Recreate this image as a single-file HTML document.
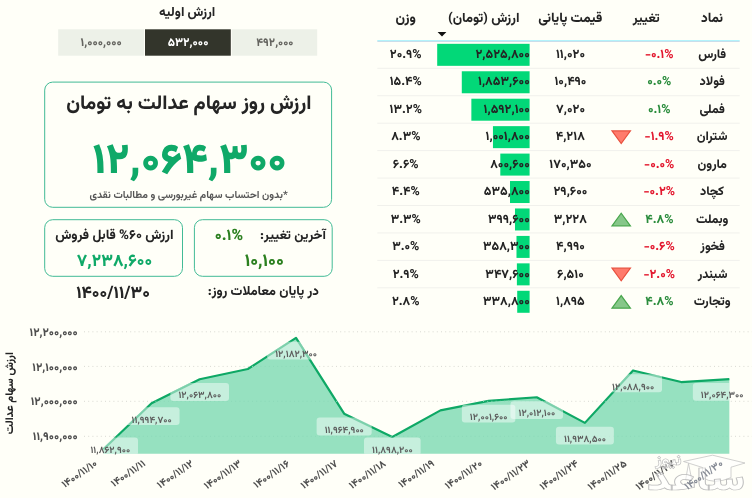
<!DOCTYPE html>
<html lang="fa">
<head>
<meta charset="utf-8">
<title>ارزش روز سهام عدالت</title>
<style>
html,body{margin:0;padding:0;background:#fffff8;}
body{width:752px;height:498px;overflow:hidden;font-family:Vazirmatn, 'DejaVu Sans', 'Liberation Sans', sans-serif;}
svg{display:block;position:absolute;left:0;top:0;}
</style>
</head>
<body>
<svg width="752" height="498" viewBox="0 0 752 498" font-family="Vazirmatn, 'DejaVu Sans', 'Liberation Sans', sans-serif" text-anchor="middle" text-rendering="geometricPrecision">
<defs><mask id="plot" maskUnits="userSpaceOnUse" x="0" y="320" width="752" height="133.7"><path d="M103.4 449.23 L151.55 403.3 L199.7 379.22 L247.85 369 L296 337.92 L344.15 413.68 L392.3 436.93 L440.45 410.37 L488.6 400.89 L536.75 397.23 L584.9 422.88 L633.05 370.47 L681.2 382.04 L729.35 379.04 L729.35 453.7 L103.4 453.7 Z" fill="#fff"/><path d="M103.4 449.23 L151.55 403.3 L199.7 379.22 L247.85 369 L296 337.92 L344.15 413.68 L392.3 436.93 L440.45 410.37 L488.6 400.89 L536.75 397.23 L584.9 422.88 L633.05 370.47 L681.2 382.04 L729.35 379.04" fill="none" stroke="#fff" stroke-width="2.4"/></mask></defs>
<g id="initial-value">
<rect x="58.2" y="29.3" width="85.8" height="26.4" fill="#edf1e8"/>
<rect x="145" y="29.3" width="85.8" height="26.4" fill="#33352b"/>
<rect x="231.8" y="29.3" width="85.4" height="26.4" fill="#edf1e8"/>
</g>
<rect x="44.7" y="82.1" width="286.9" height="125.2" rx="8" fill="none" stroke="#42bb96" stroke-width="1"/>
<rect x="44.7" y="219.7" width="137.8" height="56.6" rx="8" fill="none" stroke="#42bb96" stroke-width="1"/>
<rect x="194.4" y="219.7" width="137.8" height="56.6" rx="8" fill="none" stroke="#42bb96" stroke-width="1"/>
<g id="table">
<rect x="377.3" y="40" width="362.4" height="1" fill="#b3f3fb"/>
<rect x="377.3" y="41" width="362.4" height="0.9" fill="#c2dbe9"/>
<rect x="377.3" y="67.8" width="362.4" height="1" fill="#f1f1ec"/>
<rect x="377.3" y="95.24" width="362.4" height="1" fill="#f1f1ec"/>
<rect x="377.3" y="122.68" width="362.4" height="1" fill="#f1f1ec"/>
<rect x="377.3" y="150.12" width="362.4" height="1" fill="#f1f1ec"/>
<rect x="377.3" y="177.56" width="362.4" height="1" fill="#f1f1ec"/>
<rect x="377.3" y="205" width="362.4" height="1" fill="#f1f1ec"/>
<rect x="377.3" y="232.44" width="362.4" height="1" fill="#f1f1ec"/>
<rect x="377.3" y="259.88" width="362.4" height="1" fill="#f1f1ec"/>
<rect x="377.3" y="287.32" width="362.4" height="1" fill="#f1f1ec"/>
<rect x="437.2" y="43.83" width="92.4" height="22" fill="#02d878"/>
<rect x="461.79" y="71.27" width="67.81" height="22" fill="#02d878"/>
<rect x="471.36" y="98.71" width="58.24" height="22" fill="#02d878"/>
<rect x="492.95" y="126.15" width="36.65" height="22" fill="#02d878"/>
<path d="M612 130.95H630.4L621.2 143.55Z" fill="#ff7b6c" stroke="#e8503e" stroke-width="1.2" stroke-linejoin="miter"/>
<rect x="500.31" y="153.59" width="29.29" height="22" fill="#02d878"/>
<rect x="510" y="181.03" width="19.6" height="22" fill="#02d878"/>
<rect x="514.98" y="208.47" width="14.62" height="22" fill="#02d878"/>
<path d="M612 225.87H630.4L621.2 213.27Z" fill="#86c789" stroke="#48a64c" stroke-width="1.2" stroke-linejoin="miter"/>
<rect x="516.49" y="235.91" width="13.11" height="22" fill="#02d878"/>
<rect x="516.88" y="263.35" width="12.72" height="22" fill="#02d878"/>
<path d="M612 268.15H630.4L621.2 280.75Z" fill="#ff7b6c" stroke="#e8503e" stroke-width="1.2" stroke-linejoin="miter"/>
<rect x="517.21" y="290.79" width="12.39" height="22" fill="#02d878"/>
<path d="M612 308.19H630.4L621.2 295.59Z" fill="#86c789" stroke="#48a64c" stroke-width="1.2" stroke-linejoin="miter"/>
<path d="M437.6 32H446.4L442 36.4Z" fill="#111"/>
</g>
<g id="chart">
<line x1="84" x2="752" y1="331.8" y2="331.8" stroke="#d9d9d2" stroke-width="1" stroke-dasharray="1 3.2"/>
<line x1="84" x2="752" y1="366.4" y2="366.4" stroke="#d9d9d2" stroke-width="1" stroke-dasharray="1 3.2"/>
<line x1="84" x2="752" y1="401.3" y2="401.3" stroke="#d9d9d2" stroke-width="1" stroke-dasharray="1 3.2"/>
<line x1="84" x2="752" y1="436.3" y2="436.3" stroke="#d9d9d2" stroke-width="1" stroke-dasharray="1 3.2"/>
<path d="M103.4 449.23 L151.55 403.3 L199.7 379.22 L247.85 369 L296 337.92 L344.15 413.68 L392.3 436.93 L440.45 410.37 L488.6 400.89 L536.75 397.23 L584.9 422.88 L633.05 370.47 L681.2 382.04 L729.35 379.04 L729.35 453.7 L103.4 453.7 Z" fill="#96e1c0"/>
<path d="M103.4 449.23 L151.55 403.3 L199.7 379.22 L247.85 369 L296 337.92 L344.15 413.68 L392.3 436.93 L440.45 410.37 L488.6 400.89 L536.75 397.23 L584.9 422.88 L633.05 370.47 L681.2 382.04 L729.35 379.04" fill="none" stroke="#0ea865" stroke-width="2.2" stroke-linejoin="round" stroke-linecap="butt"/>
<line x1="84" x2="752" y1="331.8" y2="331.8" stroke="#8cd9b8" stroke-width="1" stroke-dasharray="1 3.2" mask="url(#plot)"/>
<line x1="84" x2="752" y1="366.4" y2="366.4" stroke="#8cd9b8" stroke-width="1" stroke-dasharray="1 3.2" mask="url(#plot)"/>
<line x1="84" x2="752" y1="401.3" y2="401.3" stroke="#8cd9b8" stroke-width="1" stroke-dasharray="1 3.2" mask="url(#plot)"/>
<line x1="84" x2="752" y1="436.3" y2="436.3" stroke="#8cd9b8" stroke-width="1" stroke-dasharray="1 3.2" mask="url(#plot)"/>
<g mask="url(#plot)">
<rect x="82.37" y="437.6" width="55.66" height="17.8" rx="3" fill="#ffffff" fill-opacity="0.46"/>
<rect x="123.53" y="407.2" width="56.04" height="17.8" rx="3" fill="#ffffff" fill-opacity="0.46"/>
<rect x="170.36" y="383.12" width="58.67" height="17.8" rx="3" fill="#ffffff" fill-opacity="0.46"/>
<rect x="267.13" y="341.82" width="57.74" height="17.8" rx="3" fill="#ffffff" fill-opacity="0.46"/>
<rect x="316.62" y="417.58" width="55.06" height="17.8" rx="3" fill="#ffffff" fill-opacity="0.46"/>
<rect x="363.98" y="437.6" width="56.64" height="17.8" rx="3" fill="#ffffff" fill-opacity="0.46"/>
<rect x="461.84" y="404.79" width="53.52" height="17.8" rx="3" fill="#ffffff" fill-opacity="0.46"/>
<rect x="510.46" y="401.13" width="52.59" height="17.8" rx="3" fill="#ffffff" fill-opacity="0.46"/>
<rect x="555.93" y="426.78" width="57.95" height="17.8" rx="3" fill="#ffffff" fill-opacity="0.46"/>
<rect x="604.09" y="374.37" width="57.92" height="17.8" rx="3" fill="#ffffff" fill-opacity="0.46"/>
<rect x="692.85" y="382.94" width="58.5" height="17.8" rx="3" fill="#ffffff" fill-opacity="0.46"/>
</g>
</g>
<g id="text">
<text x="187.16" y="16.01" font-size="13.07" font-weight="800" fill="#242424" textLength="56.17" lengthAdjust="spacingAndGlyphs" direction="rtl">ارزش اولیه</text>
<text x="101.15" y="45.7" font-size="11.74" font-weight="800" fill="#64645f" textLength="41.18" lengthAdjust="spacingAndGlyphs" direction="ltr">۱,۰۰۰,۰۰۰</text>
<text x="188.05" y="45.7" font-size="11.86" font-weight="800" fill="#ffffff" textLength="40.8" lengthAdjust="spacingAndGlyphs" direction="ltr">۵۳۲,۰۰۰</text>
<text x="274.85" y="45.7" font-size="11.46" font-weight="800" fill="#64645f" textLength="37.16" lengthAdjust="spacingAndGlyphs" direction="ltr">۴۹۲,۰۰۰</text>
<text x="188.85" y="109.34" font-size="19.68" font-weight="800" fill="#242424" textLength="245.27" lengthAdjust="spacingAndGlyphs" direction="rtl">ارزش روز سهام عدالت به تومان</text>
<text x="189.66" y="172.5" font-size="42.52" font-weight="900" fill="#0fa968" textLength="194.23" lengthAdjust="spacingAndGlyphs" direction="ltr">۱۲,۰۶۴,۳۰۰</text>
<text x="188.56" y="197.62" font-size="10.38" font-weight="700" fill="#555555" textLength="198.16" lengthAdjust="spacingAndGlyphs" direction="rtl">*بدون احتساب سهام غیربورسی و مطالبات نقدی</text>
<text x="114.37" y="239.16" font-size="13.42" font-weight="800" fill="#242424" textLength="118.41" lengthAdjust="spacingAndGlyphs" direction="rtl">ارزش ۶۰% قابل فروش</text>
<text x="114.46" y="266.3" font-size="17.2" font-weight="800" fill="#0fa968" textLength="75.27" lengthAdjust="spacingAndGlyphs" direction="ltr">۷,۲۳۸,۶۰۰</text>
<text x="292.95" y="238.5" font-size="12.98" font-weight="800" fill="#242424" textLength="65.87" lengthAdjust="spacingAndGlyphs" direction="rtl">آخرین تغییر:</text>
<text x="228.98" y="240" font-size="15.69" font-weight="800" fill="#2c8020" textLength="28.33" lengthAdjust="spacingAndGlyphs" direction="ltr">۰.۱%</text>
<text x="264.23" y="266.2" font-size="17.62" font-weight="800" fill="#2c8020" textLength="39.17" lengthAdjust="spacingAndGlyphs" direction="ltr">۱۰,۱۰۰</text>
<text x="263.32" y="295.13" font-size="13.13" font-weight="800" fill="#242424" textLength="111.22" lengthAdjust="spacingAndGlyphs" direction="rtl">در پایان معاملات روز:</text>
<text x="113.13" y="298.3" font-size="17.28" font-weight="800" fill="#242424" textLength="73.95" lengthAdjust="spacingAndGlyphs" direction="ltr">۱۴۰۰/۱۱/۳۰</text>
<text x="712.03" y="21.6" font-size="13.4" font-weight="800" fill="#242424" textLength="22.14" lengthAdjust="spacingAndGlyphs" direction="rtl">نماد</text>
<text x="646.23" y="21.6" font-size="13" font-weight="800" fill="#242424" textLength="27.09" lengthAdjust="spacingAndGlyphs" direction="rtl">تغییر</text>
<text x="570.2" y="21.6" font-size="13.47" font-weight="800" fill="#242424" textLength="64.07" lengthAdjust="spacingAndGlyphs" direction="rtl">قیمت پایانی</text>
<text x="483.73" y="21.6" font-size="13.32" font-weight="800" fill="#242424" textLength="71.47" lengthAdjust="spacingAndGlyphs" direction="rtl">ارزش (تومان)</text>
<text x="405.69" y="21.6" font-size="13.58" font-weight="800" fill="#242424" textLength="20.47" lengthAdjust="spacingAndGlyphs" direction="rtl">وزن</text>
<text x="712.2" y="58" font-size="12.5" font-weight="800" fill="#242424" textLength="28.04" lengthAdjust="spacingAndGlyphs" direction="rtl">فارس</text>
<text x="659.25" y="58" font-size="12.5" font-weight="800" fill="#e3182f" textLength="28.6" lengthAdjust="spacingAndGlyphs" direction="ltr">-۰.۱%</text>
<text x="570.46" y="58" font-size="12.5" font-weight="800" fill="#242424" textLength="29.05" lengthAdjust="spacingAndGlyphs" direction="ltr">۱۱,۰۲۰</text>
<text x="502.62" y="58" font-size="12.5" font-weight="800" fill="#242424" textLength="54.32" lengthAdjust="spacingAndGlyphs" direction="ltr">۲,۵۲۵,۸۰۰</text>
<text x="405.73" y="58" font-size="12.5" font-weight="800" fill="#242424" textLength="31.78" lengthAdjust="spacingAndGlyphs" direction="ltr">۲۰.۹%</text>
<text x="712.2" y="85.44" font-size="12.5" font-weight="800" fill="#242424" textLength="25.29" lengthAdjust="spacingAndGlyphs" direction="rtl">فولاد</text>
<text x="659.25" y="85.44" font-size="12.5" font-weight="800" fill="#2a8c3c" textLength="24.23" lengthAdjust="spacingAndGlyphs" direction="ltr">۰.۰%</text>
<text x="570.46" y="85.44" font-size="12.5" font-weight="800" fill="#242424" textLength="32.02" lengthAdjust="spacingAndGlyphs" direction="ltr">۱۰,۴۹۰</text>
<text x="503.88" y="85.44" font-size="12.5" font-weight="800" fill="#242424" textLength="51.79" lengthAdjust="spacingAndGlyphs" direction="ltr">۱,۸۵۳,۶۰۰</text>
<text x="405.73" y="85.44" font-size="12.5" font-weight="800" fill="#242424" textLength="32.11" lengthAdjust="spacingAndGlyphs" direction="ltr">۱۵.۴%</text>
<text x="712.2" y="112.88" font-size="12.5" font-weight="800" fill="#242424" textLength="25.27" lengthAdjust="spacingAndGlyphs" direction="rtl">فملی</text>
<text x="659.25" y="112.88" font-size="12.5" font-weight="800" fill="#2a8c3c" textLength="22.56" lengthAdjust="spacingAndGlyphs" direction="ltr">۰.۱%</text>
<text x="570.53" y="112.88" font-size="12.5" font-weight="800" fill="#242424" textLength="28.89" lengthAdjust="spacingAndGlyphs" direction="ltr">۷,۰۲۰</text>
<text x="506.66" y="112.88" font-size="12.5" font-weight="800" fill="#242424" textLength="46.23" lengthAdjust="spacingAndGlyphs" direction="ltr">۱,۵۹۲,۱۰۰</text>
<text x="405.73" y="112.88" font-size="12.5" font-weight="800" fill="#242424" textLength="32.37" lengthAdjust="spacingAndGlyphs" direction="ltr">۱۳.۲%</text>
<text x="712.2" y="140.32" font-size="12.5" font-weight="800" fill="#242424" textLength="30.69" lengthAdjust="spacingAndGlyphs" direction="rtl">شتران</text>
<text x="659.25" y="140.32" font-size="12.5" font-weight="800" fill="#e3182f" textLength="29.3" lengthAdjust="spacingAndGlyphs" direction="ltr">-۱.۹%</text>
<text x="570.26" y="140.32" font-size="12.5" font-weight="800" fill="#242424" textLength="29.1" lengthAdjust="spacingAndGlyphs" direction="ltr">۴,۲۱۸</text>
<text x="507.65" y="140.32" font-size="12.5" font-weight="800" fill="#242424" textLength="44.25" lengthAdjust="spacingAndGlyphs" direction="ltr">۱,۰۰۱,۸۰۰</text>
<text x="405.8" y="140.32" font-size="12.5" font-weight="800" fill="#242424" textLength="29.28" lengthAdjust="spacingAndGlyphs" direction="ltr">۸.۳%</text>
<text x="712.17" y="167.76" font-size="12.5" font-weight="800" fill="#242424" textLength="29.32" lengthAdjust="spacingAndGlyphs" direction="rtl">مارون</text>
<text x="659.25" y="167.76" font-size="12.5" font-weight="800" fill="#e3182f" textLength="30.27" lengthAdjust="spacingAndGlyphs" direction="ltr">-۰.۰%</text>
<text x="570.46" y="167.76" font-size="12.5" font-weight="800" fill="#242424" textLength="42.18" lengthAdjust="spacingAndGlyphs" direction="ltr">۱۷۰,۳۵۰</text>
<text x="509.98" y="167.76" font-size="12.5" font-weight="800" fill="#242424" textLength="39.59" lengthAdjust="spacingAndGlyphs" direction="ltr">۸۰۰,۶۰۰</text>
<text x="405.67" y="167.76" font-size="12.5" font-weight="800" fill="#242424" textLength="25.85" lengthAdjust="spacingAndGlyphs" direction="ltr">۶.۶%</text>
<text x="712.05" y="195.2" font-size="12.5" font-weight="800" fill="#242424" textLength="23.99" lengthAdjust="spacingAndGlyphs" direction="rtl">کچاد</text>
<text x="659.25" y="195.2" font-size="12.5" font-weight="800" fill="#e3182f" textLength="31.54" lengthAdjust="spacingAndGlyphs" direction="ltr">-۰.۲%</text>
<text x="570.46" y="195.2" font-size="12.5" font-weight="800" fill="#242424" textLength="33.9" lengthAdjust="spacingAndGlyphs" direction="ltr">۲۹,۶۰۰</text>
<text x="506.81" y="195.2" font-size="12.5" font-weight="800" fill="#242424" textLength="45.94" lengthAdjust="spacingAndGlyphs" direction="ltr">۵۳۵,۸۰۰</text>
<text x="405.73" y="195.2" font-size="12.5" font-weight="800" fill="#242424" textLength="27.97" lengthAdjust="spacingAndGlyphs" direction="ltr">۴.۴%</text>
<text x="712.19" y="222.64" font-size="12.5" font-weight="800" fill="#242424" textLength="32.6" lengthAdjust="spacingAndGlyphs" direction="rtl">وبملت</text>
<text x="659.43" y="222.64" font-size="12.5" font-weight="800" fill="#2a8c3c" textLength="28.19" lengthAdjust="spacingAndGlyphs" direction="ltr">۴.۸%</text>
<text x="570.26" y="222.64" font-size="12.5" font-weight="800" fill="#242424" textLength="33.12" lengthAdjust="spacingAndGlyphs" direction="ltr">۳,۲۲۸</text>
<text x="508.84" y="222.64" font-size="12.5" font-weight="800" fill="#242424" textLength="41.87" lengthAdjust="spacingAndGlyphs" direction="ltr">۳۹۹,۶۰۰</text>
<text x="405.73" y="222.64" font-size="12.5" font-weight="800" fill="#242424" textLength="30.15" lengthAdjust="spacingAndGlyphs" direction="ltr">۳.۳%</text>
<text x="712.64" y="250.08" font-size="12.5" font-weight="800" fill="#242424" textLength="24.65" lengthAdjust="spacingAndGlyphs" direction="rtl">فخوز</text>
<text x="659.25" y="250.08" font-size="12.5" font-weight="800" fill="#e3182f" textLength="31.08" lengthAdjust="spacingAndGlyphs" direction="ltr">-۰.۶%</text>
<text x="570.46" y="250.08" font-size="12.5" font-weight="800" fill="#242424" textLength="28.81" lengthAdjust="spacingAndGlyphs" direction="ltr">۴,۹۹۰</text>
<text x="506.38" y="250.08" font-size="12.5" font-weight="800" fill="#242424" textLength="46.8" lengthAdjust="spacingAndGlyphs" direction="ltr">۳۵۸,۳۰۰</text>
<text x="405.73" y="250.08" font-size="12.5" font-weight="800" fill="#242424" textLength="27.19" lengthAdjust="spacingAndGlyphs" direction="ltr">۳.۰%</text>
<text x="712.64" y="277.52" font-size="12.5" font-weight="800" fill="#242424" textLength="29.95" lengthAdjust="spacingAndGlyphs" direction="rtl">شبندر</text>
<text x="659.25" y="277.52" font-size="12.5" font-weight="800" fill="#e3182f" textLength="31.54" lengthAdjust="spacingAndGlyphs" direction="ltr">-۲.۰%</text>
<text x="570.4" y="277.52" font-size="12.5" font-weight="800" fill="#242424" textLength="26.78" lengthAdjust="spacingAndGlyphs" direction="ltr">۶,۵۱۰</text>
<text x="507.57" y="277.52" font-size="12.5" font-weight="800" fill="#242424" textLength="44.42" lengthAdjust="spacingAndGlyphs" direction="ltr">۳۴۷,۶۰۰</text>
<text x="405.73" y="277.52" font-size="12.5" font-weight="800" fill="#242424" textLength="26.2" lengthAdjust="spacingAndGlyphs" direction="ltr">۲.۹%</text>
<text x="712.19" y="304.96" font-size="12.5" font-weight="800" fill="#242424" textLength="36.7" lengthAdjust="spacingAndGlyphs" direction="rtl">وتجارت</text>
<text x="659.43" y="304.96" font-size="12.5" font-weight="800" fill="#2a8c3c" textLength="28.19" lengthAdjust="spacingAndGlyphs" direction="ltr">۴.۸%</text>
<text x="570.39" y="304.96" font-size="12.5" font-weight="800" fill="#242424" textLength="28.76" lengthAdjust="spacingAndGlyphs" direction="ltr">۱,۸۹۵</text>
<text x="506.38" y="304.96" font-size="12.5" font-weight="800" fill="#242424" textLength="46.79" lengthAdjust="spacingAndGlyphs" direction="ltr">۳۳۸,۸۰۰</text>
<text x="405.73" y="304.96" font-size="12.5" font-weight="800" fill="#242424" textLength="27.59" lengthAdjust="spacingAndGlyphs" direction="ltr">۲.۸%</text>
<text x="53.63" y="335.9" font-size="11.6" font-weight="800" fill="#4e4e4e" textLength="48.21" lengthAdjust="spacingAndGlyphs" direction="ltr">۱۲,۲۰۰,۰۰۰</text>
<text x="55" y="370.5" font-size="11.6" font-weight="800" fill="#4e4e4e" textLength="45.48" lengthAdjust="spacingAndGlyphs" direction="ltr">۱۲,۱۰۰,۰۰۰</text>
<text x="54.22" y="405.4" font-size="11.6" font-weight="800" fill="#4e4e4e" textLength="47.03" lengthAdjust="spacingAndGlyphs" direction="ltr">۱۲,۰۰۰,۰۰۰</text>
<text x="55.26" y="440.4" font-size="11.6" font-weight="800" fill="#4e4e4e" textLength="44.96" lengthAdjust="spacingAndGlyphs" direction="ltr">۱۱,۹۰۰,۰۰۰</text>
<text x="0.14" y="2.11" font-size="11.1" font-weight="800" fill="#242424" textLength="82.07" lengthAdjust="spacingAndGlyphs" direction="rtl" transform="translate(10.9 393.3) rotate(-90)">ارزش سهام عدالت</text>
<text x="110.31" y="452.9" font-size="9.6" font-weight="700" fill="#5c5c5c" textLength="39.85" lengthAdjust="spacingAndGlyphs" direction="ltr">۱۱,۸۶۲,۹۰۰</text>
<text x="151.66" y="422.5" font-size="9.6" font-weight="700" fill="#5c5c5c" textLength="40.23" lengthAdjust="spacingAndGlyphs" direction="ltr">۱۱,۹۹۴,۷۰۰</text>
<text x="199.81" y="398.42" font-size="9.6" font-weight="700" fill="#5c5c5c" textLength="42.86" lengthAdjust="spacingAndGlyphs" direction="ltr">۱۲,۰۶۳,۸۰۰</text>
<text x="296.11" y="357.12" font-size="9.6" font-weight="700" fill="#5c5c5c" textLength="41.93" lengthAdjust="spacingAndGlyphs" direction="ltr">۱۲,۱۸۲,۳۰۰</text>
<text x="344.26" y="432.88" font-size="9.6" font-weight="700" fill="#5c5c5c" textLength="39.25" lengthAdjust="spacingAndGlyphs" direction="ltr">۱۱,۹۶۴,۹۰۰</text>
<text x="392.41" y="452.9" font-size="9.6" font-weight="700" fill="#5c5c5c" textLength="40.83" lengthAdjust="spacingAndGlyphs" direction="ltr">۱۱,۸۹۸,۲۰۰</text>
<text x="488.71" y="420.09" font-size="9.6" font-weight="700" fill="#5c5c5c" textLength="37.7" lengthAdjust="spacingAndGlyphs" direction="ltr">۱۲,۰۰۱,۶۰۰</text>
<text x="536.86" y="416.43" font-size="9.6" font-weight="700" fill="#5c5c5c" textLength="36.77" lengthAdjust="spacingAndGlyphs" direction="ltr">۱۲,۰۱۲,۱۰۰</text>
<text x="585.01" y="442.08" font-size="9.6" font-weight="700" fill="#5c5c5c" textLength="42.14" lengthAdjust="spacingAndGlyphs" direction="ltr">۱۱,۹۳۸,۵۰۰</text>
<text x="633.16" y="389.67" font-size="9.6" font-weight="700" fill="#5c5c5c" textLength="42.11" lengthAdjust="spacingAndGlyphs" direction="ltr">۱۲,۰۸۸,۹۰۰</text>
<text x="722.21" y="398.24" font-size="9.6" font-weight="700" fill="#5c5c5c" textLength="42.69" lengthAdjust="spacingAndGlyphs" direction="ltr">۱۲,۰۶۴,۳۰۰</text>
<text x="-19.75" y="3.52" font-size="10.35" font-weight="800" fill="#505050" textLength="40.45" lengthAdjust="spacingAndGlyphs" direction="ltr" transform="translate(95.5 462.3) rotate(-34.8)">۱۴۰۰/۱۱/۱۰</text>
<text x="-18.99" y="3.52" font-size="10.35" font-weight="800" fill="#505050" textLength="39.07" lengthAdjust="spacingAndGlyphs" direction="ltr" transform="translate(143.65 462.3) rotate(-34.8)">۱۴۰۰/۱۱/۱۱</text>
<text x="-20.36" y="3.52" font-size="10.35" font-weight="800" fill="#505050" textLength="41.5" lengthAdjust="spacingAndGlyphs" direction="ltr" transform="translate(191.8 462.3) rotate(-34.8)">۱۴۰۰/۱۱/۱۲</text>
<text x="-21.11" y="3.52" font-size="10.35" font-weight="800" fill="#505050" textLength="42.9" lengthAdjust="spacingAndGlyphs" direction="ltr" transform="translate(239.95 462.3) rotate(-34.8)">۱۴۰۰/۱۱/۱۳</text>
<text x="-20.34" y="3.52" font-size="10.35" font-weight="800" fill="#505050" textLength="41.12" lengthAdjust="spacingAndGlyphs" direction="ltr" transform="translate(288.1 462.3) rotate(-34.8)">۱۴۰۰/۱۱/۱۶</text>
<text x="-20.95" y="3.52" font-size="10.35" font-weight="800" fill="#505050" textLength="42.18" lengthAdjust="spacingAndGlyphs" direction="ltr" transform="translate(336.25 462.3) rotate(-34.8)">۱۴۰۰/۱۱/۱۷</text>
<text x="-20.95" y="3.52" font-size="10.35" font-weight="800" fill="#505050" textLength="42.18" lengthAdjust="spacingAndGlyphs" direction="ltr" transform="translate(384.4 462.3) rotate(-34.8)">۱۴۰۰/۱۱/۱۸</text>
<text x="-19.87" y="3.52" font-size="10.35" font-weight="800" fill="#505050" textLength="41.03" lengthAdjust="spacingAndGlyphs" direction="ltr" transform="translate(432.55 462.3) rotate(-34.8)">۱۴۰۰/۱۱/۱۹</text>
<text x="-20.96" y="3.52" font-size="10.35" font-weight="800" fill="#505050" textLength="42.88" lengthAdjust="spacingAndGlyphs" direction="ltr" transform="translate(480.7 462.3) rotate(-34.8)">۱۴۰۰/۱۱/۲۰</text>
<text x="-22.32" y="3.52" font-size="10.35" font-weight="800" fill="#505050" textLength="45.33" lengthAdjust="spacingAndGlyphs" direction="ltr" transform="translate(528.85 462.3) rotate(-34.8)">۱۴۰۰/۱۱/۲۳</text>
<text x="-22.05" y="3.52" font-size="10.35" font-weight="800" fill="#505050" textLength="44.43" lengthAdjust="spacingAndGlyphs" direction="ltr" transform="translate(577 462.3) rotate(-34.8)">۱۴۰۰/۱۱/۲۴</text>
<text x="-21.96" y="3.52" font-size="10.35" font-weight="800" fill="#505050" textLength="44.62" lengthAdjust="spacingAndGlyphs" direction="ltr" transform="translate(625.15 462.3) rotate(-34.8)">۱۴۰۰/۱۱/۲۵</text>
<text x="-22.17" y="3.52" font-size="10.35" font-weight="800" fill="#505050" textLength="44.61" lengthAdjust="spacingAndGlyphs" direction="ltr" transform="translate(673.3 462.3) rotate(-34.8)">۱۴۰۰/۱۱/۲۷</text>
</g>
<g id="watermark" fill="#ffffff" fill-opacity="0.55" stroke="#bdbdbd" stroke-width="0.7" font-weight="900">
<path d="M683.5 461.5L712.5 455.2L745 463L731 467.2V477.6Q714 485 702.5 477.6V467.5Z"/>
<path d="M688.5 463.5L691.8 480H685.6Z"/>
<text x="696" y="489.5" font-size="32" direction="rtl" textLength="98" lengthAdjust="spacingAndGlyphs" stroke-width="0.7">ساعد</text>
<text x="668.5" y="465" font-size="15" direction="rtl" textLength="26" lengthAdjust="spacingAndGlyphs" stroke-width="0.6">نیوز</text>
</g>
<text x="-21.66" y="3.52" font-size="10.35" font-weight="800" fill="#878c96" textLength="44.28" lengthAdjust="spacingAndGlyphs" direction="ltr" transform="translate(721.45 462.3) rotate(-34.8)">۱۴۰۰/۱۱/۳۰</text>
</svg>
</body>
</html>
